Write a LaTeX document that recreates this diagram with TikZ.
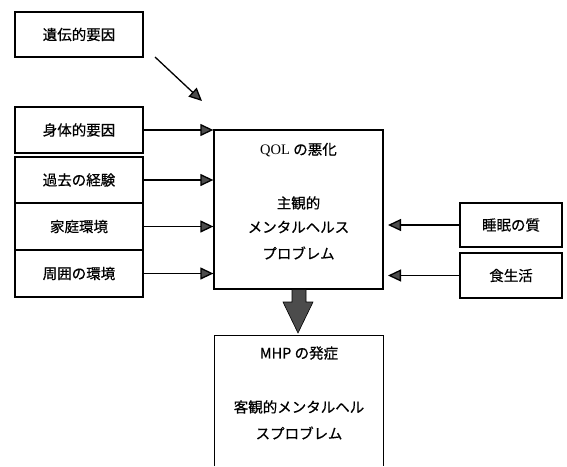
\documentclass[tikz,border=0pt]{standalone}
\usepackage{fontspec}
\newfontfamily\jp[FakeBold=0.6]{Noto Sans CJK JP}
\newfontfamily\serifq{Liberation Serif}
\usetikzlibrary{arrows.meta}
\tikzset{
  box/.style={draw=black, line width=1.3pt, rectangle, inner sep=0pt, font=\jp\fontsize{14.5}{17}\selectfont},
  lbl/.style={inner sep=0pt, font=\jp\fontsize{14.5}{17}\selectfont},
  arr/.style={line width=1.3pt, -{Triangle[length=13pt,width=12pt,fill=black!70]}},
}
\begin{document}
\begin{tikzpicture}[x=1pt,y=-1pt]
\useasboundingbox (0,0) rectangle (567,466);
\fill[white] (0,0) rectangle (567,466);
% left boxes
\node[box, minimum width=128pt, minimum height=45pt] (gen) at (79,34.5) {遺伝的要因};
\node[box, minimum width=128pt, minimum height=46pt] (body) at (79,130) {身体的要因};
\node[box, minimum width=128pt, minimum height=46pt] (past) at (79,180) {過去の経験};
\node[box, minimum width=128pt, minimum height=47pt] (home) at (79,226.5) {家庭環境};
\node[box, minimum width=128pt, minimum height=47pt] (surr) at (79,273.5) {周囲の環境};
% main box
\node[box, minimum width=169pt, minimum height=159pt] (main) at (298.5,209.5) {};
\node[lbl] (q1) at (298.5,150) {{\serifq QOL} の悪化};
\node[lbl] (q2) at (298.5,203) {主観的};
\node[lbl] (q3) at (298.5,227) {メンタルヘルス};
\node[lbl] (q4) at (298.5,253) {プロブレム};
% right boxes
\node[box, minimum width=102pt, minimum height=44pt] (sleep) at (511,225) {睡眠の質};
\node[box, minimum width=102pt, minimum height=45pt] (food) at (511,275.5) {食生活};
% MHP box (open bottom)
\node[minimum width=168pt, minimum height=130pt, inner sep=0pt] (mhp) at (299,401) {};
\draw[line width=1.3pt] (mhp.south west) -- (mhp.north west) -- (mhp.north east) -- (mhp.south east);
\node[lbl] (m1) at (299,353) {MHP の発症};
\node[lbl] (m2) at (299,407) {客観的メンタルヘル};
\node[lbl] (m3) at (299,433) {スプロブレム};
% arrows
\coordinate (gs) at (155,57);
\coordinate (ge) at (202,101);
\draw[arr] (gs) -- (ge);
\draw[arr] (body.east) -- (body.east -| main.west);
\draw[arr] (past.east) -- (past.east -| main.west);
\draw[arr] (home.east) -- (home.east -| main.west);
\draw[arr] (surr.east) -- (surr.east -| main.west);
\coordinate (se) at (388,225);
\coordinate (fe) at (388,275.5);
\draw[arr] (sleep.west) -- (se);
\draw[arr] (food.west) -- (fe);
% big down arrow
\fill[black!70, draw=black, line width=0.6pt] (main.south -| 292,0) -- (292,302) -- (283,302) -- (298,333) -- (313,302) -- (306,302) -- (main.south -| 306,0) -- cycle;
\end{tikzpicture}
\end{document}
